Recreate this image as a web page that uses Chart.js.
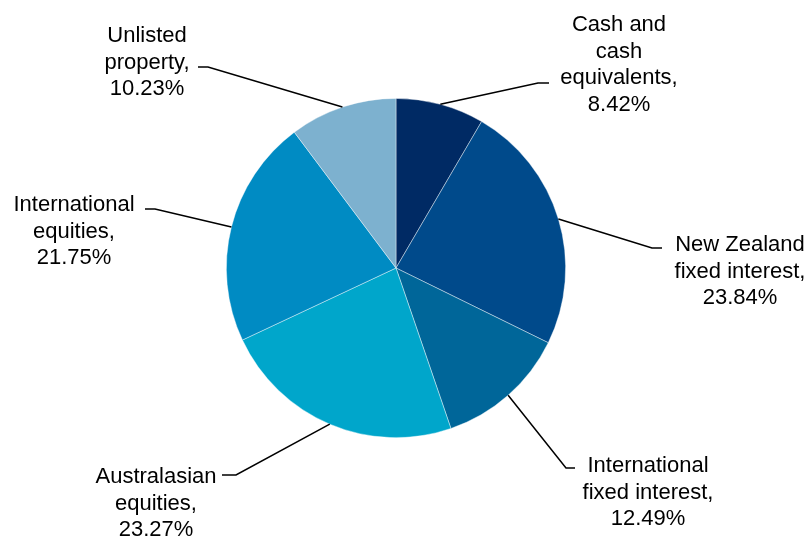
<!DOCTYPE html>
<html>
<head>
<meta charset="utf-8">
<script src="https://cdn.jsdelivr.net/npm/chart.js@4.4.1/dist/chart.umd.min.js"></script>
<style>
  html, body { margin: 0; padding: 0; background: #fff; }
  #wrap { width: 812px; height: 541px; }
</style>
</head>
<body>
<div id="wrap"><canvas id="pie" width="812" height="541"></canvas></div>
<script>
const categories = [
  "Cash and cash equivalents",
  "New Zealand fixed interest",
  "International fixed interest",
  "Australasian equities",
  "International equities",
  "Unlisted property"
];
// how each category name is broken over lines in the callouts
const labelLines = [
  ["Cash and", "cash", "equivalents,"],
  ["New Zealand", "fixed interest,"],
  ["International", "fixed interest,"],
  ["Australasian", "equities,"],
  ["International", "equities,"],
  ["Unlisted", "property,"]
];
const shares = [8.42, 23.84, 12.49, 23.27, 21.75, 10.23];
const sliceColors = ["#002a64", "#004a8b", "#006699", "#00a6cb", "#008bc3", "#7db1cf"];

// callout placement: text centre x, first baseline y, elbow x, tick end x, tick y
const callouts = [
  { cx: 619, y: 31,  ex: 538, tx: 549, ty: 83 },
  { cx: 740, y: 251, ex: 652, tx: 662, ty: 248 },
  { cx: 648, y: 472, ex: 566, tx: 575, ty: 468 },
  { cx: 156, y: 483, ex: 236, tx: 222, ty: 475 },
  { cx: 74,  y: 211, ex: 155, tx: 145, ty: 209 },
  { cx: 147, y: 42,  ex: 208, tx: 198, ty: 67 }
];

const calloutPlugin = {
  id: "callouts",
  afterDatasetsDraw(chart) {
    const ctx = chart.ctx;
    const meta = chart.getDatasetMeta(0);
    const vals = chart.data.datasets[0].data;
    ctx.save();
    meta.data.forEach((arc, i) => {
      const p = arc.getProps(["x", "y", "startAngle", "endAngle", "outerRadius"], true);
      const mid = (p.startAngle + p.endAngle) / 2;
      const sx = p.x + Math.cos(mid) * p.outerRadius;
      const sy = p.y + Math.sin(mid) * p.outerRadius;
      const c = callouts[i];
      ctx.strokeStyle = "#000";
      ctx.lineWidth = 1.5;
      ctx.beginPath();
      ctx.moveTo(sx, sy);
      ctx.lineTo(c.ex, c.ty);
      ctx.lineTo(c.tx, c.ty);
      ctx.stroke();

      const lines = labelLines[i].concat([vals[i].toFixed(2) + "%"]);
      ctx.fillStyle = "#000";
      ctx.font = "22px 'Liberation Sans', Arial, sans-serif";
      ctx.textAlign = "center";
      ctx.textBaseline = "alphabetic";
      lines.forEach((t, k) => {
        ctx.fillText(t, c.cx, c.y + k * 26.6);
      });
    });
    ctx.restore();
  }
};

new Chart(document.getElementById("pie"), {
  type: "pie",
  data: {
    labels: categories,
    datasets: [{
      data: shares,
      backgroundColor: sliceColors,
      borderColor: "rgba(255,255,255,0.55)",
      borderWidth: 0.75
    }]
  },
  options: {
    responsive: false,
    devicePixelRatio: 1,
    animation: false,
    layout: { padding: { top: 98, bottom: 103, left: 226, right: 246 } },
    plugins: {
      legend: { display: false },
      tooltip: { enabled: false }
    }
  },
  plugins: [calloutPlugin]
});
</script>
</body>
</html>
